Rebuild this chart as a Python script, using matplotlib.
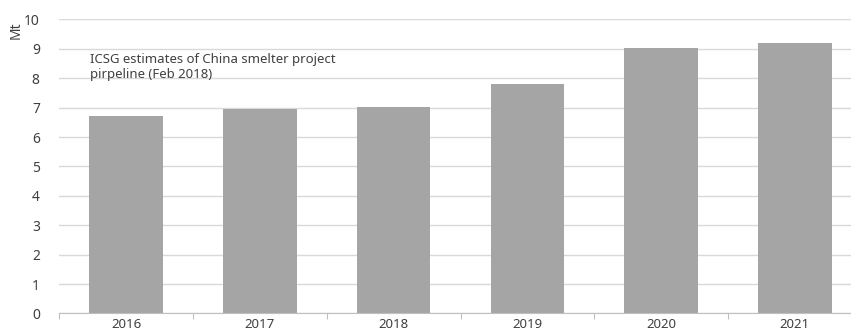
import matplotlib
matplotlib.use("Agg")
import matplotlib.pyplot as plt

years = ["2016", "2017", "2018", "2019", "2020", "2021"]
capacity_mt = [6.73, 6.95, 7.03, 7.79, 9.04, 9.2]

BAR = "#a5a5a5"
GRID = "#d9d9d9"
TEXT = "#404040"

plt.rcParams["font.family"] = ["Noto Sans", "DejaVu Sans"]

fig = plt.figure(figsize=(8.51, 3.33), dpi=100)
ax = fig.add_axes([0.0697, 0.0586, 0.943, 0.883])

x = list(range(len(years)))
ax.bar(x, capacity_mt, width=0.55, color=BAR, zorder=2)

ax.set_xlim(-0.5, len(years) - 0.5)
ax.set_ylim(0, 10)
ax.set_yticks(range(0, 11))
ax.grid(axis="y", color=GRID, linewidth=1, zorder=0)
ax.tick_params(axis="y", length=0, pad=14, labelsize=10, labelcolor=TEXT)

# boundary ticks (major) and centred labels (minor)
ax.set_xticks([i - 0.5 for i in range(len(years) + 1)])
ax.set_xticklabels([])
ax.tick_params(axis="x", which="major", length=4, color="#bfbfbf", direction="out")
ax.set_xticks(x, minor=True)
ax.set_xticklabels(years, minor=True)
ax.tick_params(axis="x", which="minor", length=0, pad=3, labelsize=9.5, labelcolor=TEXT)

for s in ["top", "right", "left"]:
    ax.spines[s].set_visible(False)
ax.spines["bottom"].set_color("#bfbfbf")

ax.set_ylabel("Mt", color=TEXT, fontsize=10)
ax.yaxis.set_label_coords(-0.045, 0.964)

ax.text(0.038, 0.885, "ICSG estimates of China smelter project\npirpeline (Feb 2018)",
        transform=ax.transAxes, ha="left", va="top", fontsize=9.5, color=TEXT,
        linespacing=1.2)

fig.savefig("out.png", dpi=100)
